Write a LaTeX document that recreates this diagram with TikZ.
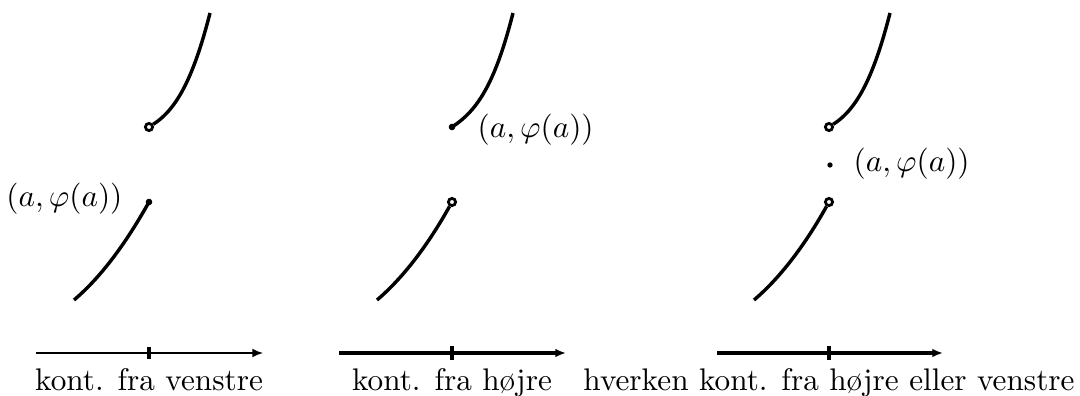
\documentclass[tikz,border=0pt]{standalone}
\usetikzlibrary{arrows.meta}
\begin{document}
\begin{tikzpicture}[x=0.32pt,y=-0.32pt,
  curve/.style={line width=1.1pt},
  axisthin/.style={line width=0.5pt,-{Latex[length=3.4pt,width=2.8pt]}},
  axisthick/.style={line width=1pt,-{Latex[length=3.4pt,width=2.8pt]}},
  tickmark/.style={line width=1pt},
  opendot/.style={circle,draw,line width=0.9pt,fill=white,inner sep=0pt,minimum size=2.3pt},
  filldot/.style={circle,fill,inner sep=0pt,minimum size=2.1pt},
  smalldot/.style={circle,fill,inner sep=0pt,minimum size=1.7pt},
  lab/.style={inner sep=0pt},
  caption/.style={anchor=base,inner sep=0pt}]
\useasboundingbox (0,0) rectangle (1080,396);

% Panel 1: kont. fra venstre
\coordinate (s1) at (36,353);
\coordinate (e1) at (263,353);
\coordinate (l1) at (74,300);
\coordinate (u1) at (210,13);
\node[filldot] (p1) at (149,202) {};
\draw[curve] (l1) .. controls (100,278) and (125,245) .. (p1.center);
\node[opendot] (o1) at (149,127) {};
\draw[curve] (o1) .. controls (174,111) and (192,84) .. (u1);
\node[lab,anchor=east] (t1) at (123,199) {$(a,\varphi(a))$};
\draw[axisthin] (s1) -- (e1);
\draw[tickmark] (149,347) -- (149,359);
\node[caption] (c1) at (149,390) {kont. fra venstre};

% Panel 2: kont. fra hoejre
\begin{scope}[shift={(303,0)}]
\coordinate (s2) at (36,353);
\coordinate (e2) at (263,353);
\coordinate (l2) at (74,300);
\coordinate (u2) at (210,13);
\node[opendot] (o2) at (149,202) {};
\draw[curve] (l2) .. controls (100,278) and (125,245) .. (o2);
\node[filldot] (p2) at (149,127) {};
\draw[curve] (p2.center) .. controls (174,111) and (192,84) .. (u2);
\node[lab,anchor=west] (t2) at (174,130) {$(a,\varphi(a))$};
\draw[axisthick] (s2) -- (e2);
\draw[tickmark] (149,346) -- (149,360);
\node[caption] (c2) at (149,390) {kont. fra højre};
\end{scope}

% Panel 3: hverken
\begin{scope}[shift={(680,0)}]
\coordinate (s3) at (37,353);
\coordinate (e3) at (263,353);
\coordinate (l3) at (74,300);
\coordinate (u3) at (210,13);
\node[opendot] (o3a) at (149,202) {};
\draw[curve] (l3) .. controls (100,278) and (125,245) .. (o3a);
\node[opendot] (o3b) at (149,127) {};
\draw[curve] (o3b) .. controls (174,111) and (192,84) .. (u3);
\node[smalldot] (p3) at (150,165) {};
\node[lab,anchor=west] (t3) at (173,164) {$(a,\varphi(a))$};
\draw[axisthick] (s3) -- (e3);
\draw[tickmark] (149,346) -- (149,360);
\node[caption] (c3) at (149,390) {hverken kont. fra højre eller venstre};
\end{scope}
\end{tikzpicture}
\end{document}
